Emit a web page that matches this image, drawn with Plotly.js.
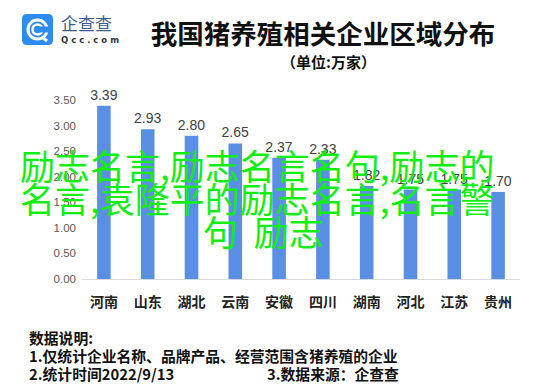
<!DOCTYPE html>
<html><head><meta charset="utf-8">
<script src="https://cdn.plot.ly/plotly-3.0.1.min.js"></script>
<style>html,body{margin:0;padding:0;background:#fff}#chart{width:553px;height:389px}</style>
</head><body><div id="chart"></div>
<script>
const provinces = ['河南','山东','湖北','云南','安徽','四川','湖南','河北','江苏','贵州'];
const counts = [3.39, 2.93, 2.80, 2.65, 2.37, 2.33, 1.82, 1.75, 1.75, 1.70];
const yTicks = [0, 0.5, 1.0, 1.5, 2.0, 2.5, 3.0, 3.5];
const titleText = '我国猪养殖相关企业区域分布';
const subtitleText = '（单位:万家）';
const overlayLines = ['励志名言,励志名言名句,励志的', '名言,袁隆平的励志名言,名言警', '句\u00a0\u00a0励志'];
const noteLines = ['数据说明:', '1.仅统计企业名称、品牌产品、经营范围含猪养殖的企业', '2.统计时间2022/9/13'];
const sourceText = '3.数据来源：企查查';

const W = 553, H = 389, L = 82, R = 520, T = 100, B = 279;
const px = x => (x - L) / (R - L);
const py = y => (B - y) / (B - T);
const CJK = '"Noto Sans CJK SC", "Noto Sans", sans-serif';

const trace = {
  type: 'bar', x: provinces, y: counts,
  marker: {color: '#5b8fe4', line: {width: 0}},
  width: 0.31,
  text: counts.map(v => v.toFixed(2)), textposition: 'outside', constraintext: 'none',
  textfont: {family: '"Liberation Sans", "Noto Sans", sans-serif', size: 14, color: '#404040'},
  cliponaxis: false, hoverinfo: 'skip'
};

const ann = [];
overlayLines.forEach((t, i) => ann.push({
  text: t, xref: 'paper', yref: 'paper', x: px(i === 2 ? 263 : 257), y: py([164, 197, 230][i]),
  xanchor: 'center', yanchor: 'middle', showarrow: false,
  font: {family: CJK, size: 35, color: '#12ee12'}
}));
ann.push({text: subtitleText, xref: 'paper', yref: 'paper', x: px(328), y: py(62), xanchor: 'center', yanchor: 'middle', showarrow: false,
  font: {family: CJK, size: 15, color: '#111', weight: 'bold'}});
noteLines.forEach((t, i) => ann.push({
  text: t, xref: 'paper', yref: 'paper', x: px(27), y: py([337, 355, 373][i]),
  xanchor: 'left', yanchor: 'middle', showarrow: false,
  font: {family: CJK, size: 14.8, color: '#111', weight: 'bold'}
}));
ann.push({text: sourceText, xref: 'paper', yref: 'paper', x: px(265), y: py(373), xanchor: 'left', yanchor: 'middle', showarrow: false,
  font: {family: CJK, size: 14.8, color: '#111', weight: 'bold'}});
ann.push({text: '企查查', xref: 'paper', yref: 'paper', x: px(59), y: py(23), xanchor: 'left', yanchor: 'middle', showarrow: false,
  font: {family: CJK, size: 17, color: '#3d5a8c'}});
ann.push({text: 'Q c c . c o m', xref: 'paper', yref: 'paper', x: px(59), y: py(40), xanchor: 'left', yanchor: 'middle', showarrow: false,
  font: {family: '"DejaVu Sans", sans-serif', size: 8.5, color: '#333', weight: 'bold'}});

// logo shapes
const x0 = px(22), x1 = px(53), y0 = py(14), y1 = py(45);
const rx = px(27) - px(22), ry = py(14) - py(19);
const logoPath = `M ${x0+rx},${y0} L ${x1-rx},${y0} Q ${x1},${y0} ${x1},${y0-ry} L ${x1},${y1+ry} Q ${x1},${y1} ${x1-rx},${y1} L ${x0+rx},${y1} Q ${x0},${y1} ${x0},${y1+ry} L ${x0},${y0-ry} Q ${x0},${y0} ${x0+rx},${y0} Z`;
const shapes = [
  {type: 'path', xref: 'paper', yref: 'paper', path: logoPath, fillcolor: '#2e8cf0', line: {width: 0}},
  {type: 'circle', xref: 'paper', yref: 'paper', x0: px(28), x1: px(47), y0: py(20), y1: py(39), line: {color: '#fff', width: 3}, fillcolor: 'rgba(0,0,0,0)'},
  {type: 'circle', xref: 'paper', yref: 'paper', x0: px(32.5), x1: px(42.5), y0: py(24.5), y1: py(34.5), line: {color: '#fff', width: 2.5}, fillcolor: 'rgba(0,0,0,0)'},
  {type: 'rect', xref: 'paper', yref: 'paper', x0: px(40), x1: px(50), y0: py(26.5), y1: py(32.5), line: {width: 0}, fillcolor: '#2e8cf0'},
  {type: 'line', xref: 'paper', yref: 'paper', x0: px(42), x1: px(47), y0: py(37), y1: py(41), line: {color: '#fff', width: 3}}
];

const layout = {
  width: W, height: H,
  margin: {l: L, r: W - R, t: T, b: H - B, pad: 0},
  paper_bgcolor: '#fff', plot_bgcolor: '#fff',
  showlegend: false,
  title: {text: titleText, x: 323 / W, y: 1 - 35 / H, xref: 'container', yref: 'container', xanchor: 'center', yanchor: 'middle',
    font: {family: CJK, size: 26.5, color: '#111', weight: 'bold'}},
  xaxis: {type: 'category', showline: true, linecolor: '#d9d9d9', linewidth: 1, showgrid: false, zeroline: false, ticks: '',
    tickfont: {family: CJK, size: 14, color: '#222', weight: 'bold'}, ticklabelstandoff: 10, fixedrange: true},
  yaxis: {range: [0, 3.5], tickvals: yTicks, ticktext: yTicks.map(v => v.toFixed(2)), showgrid: false, zeroline: false, showline: false, ticks: '',
    tickfont: {family: '"Liberation Sans", sans-serif', size: 11.5, color: '#595959'}, ticklabelstandoff: 5, fixedrange: true},
  annotations: ann, shapes: shapes
};
Plotly.newPlot('chart', [trace], layout, {displayModeBar: false, staticPlot: true});
</script></body></html>
